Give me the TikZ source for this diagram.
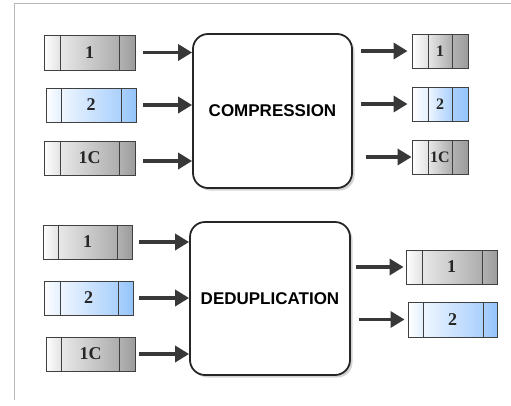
\documentclass[tikz,border=0pt]{standalone}
\usepackage{fontspec}
\setmainfont{Liberation Serif}
\setsansfont{Liberation Sans}
\usetikzlibrary{calc,fit,shadows,arrows.meta}

\definecolor{paleblue}{RGB}{228,240,255}
\definecolor{midblue}{RGB}{170,208,252}
\definecolor{deepblue}{RGB}{148,196,250}

\tikzset{
	grey left/.style={left color=white, right color=gray!22},
	grey mid/.style={left color=gray!18, right color=gray!64},
	grey right/.style={left color=gray!60, right color=gray!78},
	blue left/.style={left color=white, right color=paleblue},
	blue mid/.style={left color=paleblue!60, right color=midblue},
	blue right/.style={left color=midblue, right color=deepblue},
	pktline/.style={draw=black!75, line width=0.9pt},
	pktbox/.style={draw=black!75, line width=0.9pt, inner sep=0pt},
	pktlabel/.style={font=\bfseries\fontsize{18}{18}\selectfont, text=black!85, inner sep=0pt},
	stage/.style={draw=black!85, line width=1.8pt, rounded corners=15pt, fill=white,
		minimum width=159pt, minimum height=154pt,
		drop shadow={shadow xshift=2.5pt, shadow yshift=-2.5pt, opacity=0.35},
		font=\sffamily\bfseries\fontsize{17}{18}\selectfont},
	flow/.style={draw=black!78, line width=3.4pt, -{Triangle[length=14pt,width=16pt]}},
}

% packet: name, x1, y1, x2, y2, divider 1, divider 2, label, colour
\newcommand{\pkt}[9]{%
	\shade[#9 left] (#2,#3) rectangle (#6,#5);
	\shade[#9 mid] (#6,#3) rectangle (#7,#5);
	\shade[#9 right] (#7,#3) rectangle (#4,#5);
	\draw[pktline] (#6,#3) -- (#6,#5) (#7,#3) -- (#7,#5);
	\node[pktbox, fit={(#2,#3) (#4,#5)}] (#1) {};
	\node[pktlabel] (#1-txt) at (#1.center) {#8};
}

\begin{document}
\begin{tikzpicture}[x=1pt, y=-1pt]
	\useasboundingbox (0,0) rectangle (511,405);
	
	% frame
	\draw[gray!55, line width=1pt] (14,400) -- (14,3) -- (511,3);
	
	% stages
	\node[stage] (comp) at (272.5,111) {COMPRESSION};
	\node[stage, minimum width=160pt, minimum height=153pt] (dedup) at (270,298.5) {DEDUPLICATION};
	
	% compression in
	\pkt{ci1}{44}{35}{135}{70}{60}{119}{1}{grey}
	\pkt{ci2}{46}{88}{136}{122}{61}{121}{2}{blue}
	\pkt{ci3}{44}{141}{135}{175}{60}{119}{1C}{grey}
	
	% compression out
	\begin{scope}[pktlabel/.append style={font=\bfseries\fontsize{16}{16}\selectfont}]
	\pkt{co1}{412}{34}{468}{68}{428}{452}{1}{grey}
	\pkt{co2}{412}{87}{468}{121}{428}{452}{2}{blue}
	\pkt{co3}{412}{140}{468}{174}{428}{452}{1C}{grey}
	\end{scope}
	
	% deduplication in
	\pkt{di1}{43}{225}{132}{259}{58}{117}{1}{grey}
	\pkt{di2}{44}{281}{133}{315}{60}{118}{2}{blue}
	\pkt{di3}{46}{337}{135}{371}{61}{119}{1C}{grey}
	
	% deduplication out
	\pkt{do1}{406}{250}{497}{284}{422}{482}{1}{grey}
	\pkt{do2}{408}{302}{497}{337}{423}{483}{2}{blue}
	
	% arrows
	\draw[flow] ([xshift=8pt]ci1.east) -- (comp.west |- ci1.east);
	\draw[flow] ([xshift=7pt]ci2.east) -- (comp.west |- ci2.east);
	\draw[flow] ([xshift=8pt,yshift=-3pt]ci3.east) -- ([yshift=-3pt]comp.west |- ci3.east);
	
	\draw[flow] ([xshift=8pt]comp.east |- co1.west) -- ([xshift=-4pt]co1.west);
	\draw[flow] ([xshift=8pt]comp.east |- co2.west) -- ([xshift=-4pt]co2.west);
	\draw[flow] ([xshift=13pt]comp.east |- co3.west) -- (co3.west);
	
	\draw[flow] ([xshift=7pt]di1.east) -- (dedup.west |- di1.east);
	\draw[flow] ([xshift=6pt]di2.east) -- (dedup.west |- di2.east);
	\draw[flow] ([xshift=4pt]di3.east) -- (dedup.west |- di3.east);
	
	\draw[flow] ([xshift=5pt]dedup.east |- do1.west) -- ([xshift=-2pt]do1.west);
	\draw[flow] ([xshift=8pt]dedup.east |- do2.west) -- ([xshift=-3pt]do2.west);
	
\end{tikzpicture}
\end{document}
